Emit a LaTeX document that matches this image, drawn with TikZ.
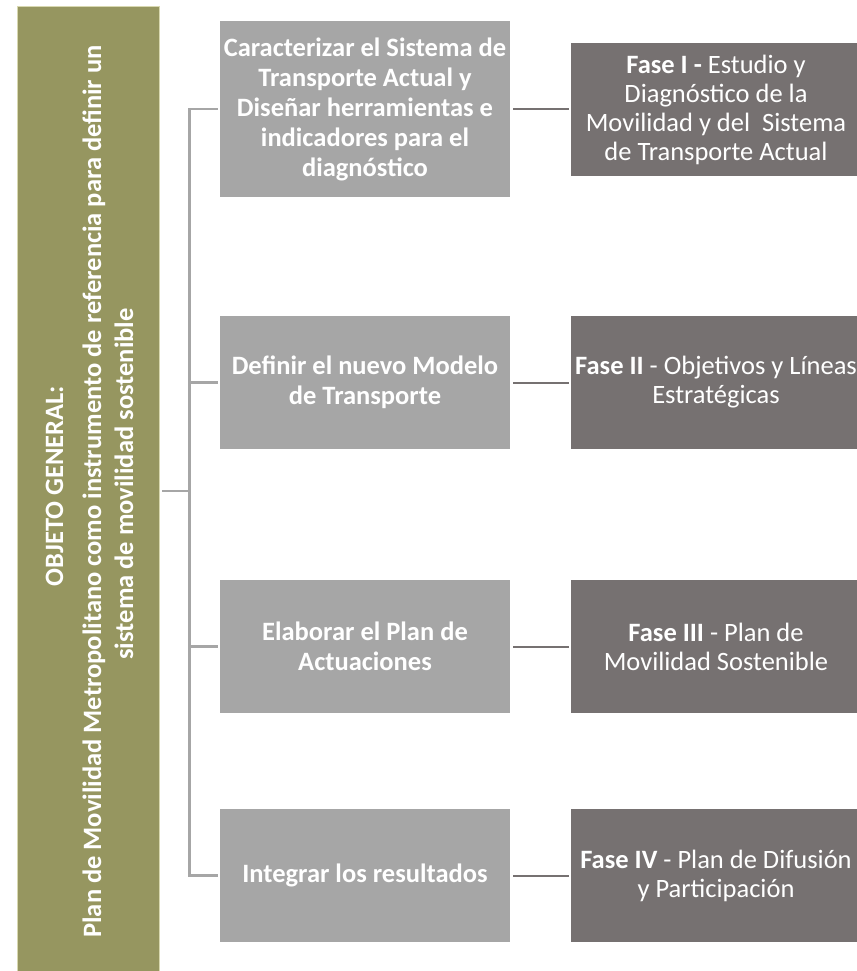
\documentclass[tikz,border=0pt]{standalone}
\usepackage{fontspec}
\setmainfont{Carlito}
\definecolor{olivebox}{HTML}{969660}
\definecolor{olivedge}{HTML}{D8D8B0}
\definecolor{midgray}{HTML}{A6A6A6}
\definecolor{darkgray}{HTML}{767171}
\begin{document}
\begin{tikzpicture}[x=1pt,y=-1pt,
  midbox/.style={fill=midgray, text=white, font=\fontsize{26.5}{30}\selectfont\bfseries,
    minimum width=290pt, align=center, inner sep=0pt},
  fasebox/.style={fill=darkgray, text=white, font=\fontsize{26.5}{29}\selectfont,
    minimum width=290pt, minimum height=133pt, align=center, inner sep=0pt},
  objtext/.style={rotate=90, text=white, anchor=base, inner sep=0pt,
    font=\fontsize{26.5}{32}\selectfont\bfseries},
  bracket/.style={draw=midgray, line width=2.5pt},
  link/.style={draw=darkgray, line width=2pt}]
\useasboundingbox (0,0) rectangle (856,971);
% left objective box
\node (obj) [fill=olivebox, draw=olivedge, line width=0.6pt, minimum width=142pt,
  minimum height=969pt, inner sep=0pt] at (88,490.5) {};
\node (objtitle) [objtext] at (63,486) {OBJETO GENERAL:};
\node (objline1) [objtext] at (101,491.5) {Plan de Movilidad Metropolitano como instrumento de referencia para definir un};
\node (objline2) [objtext] at (133,484) {sistema de movilidad sostenible};
% middle boxes
\node (m1) [midbox, minimum height=176pt] at (365,109) {Caracterizar el Sistema de\\Transporte Actual y\\Diseñar herramientas e\\indicadores para el\\diagnóstico};
\node (m2) [midbox, minimum height=133pt] at (365,382.5) {Definir el nuevo Modelo\\de Transporte};
\node (m3) [midbox, minimum height=133pt] at (365,646.5) {Elaborar el Plan de\\Actuaciones};
\node (m4) [midbox, minimum height=133pt] at (365,875.5) {Integrar los resultados};
% right boxes
\node (f1) [fasebox] at (716,109.5) {\textbf{Fase I -} Estudio y\\Diagnóstico de la\\Movilidad y del\ \ Sistema\\de Transporte Actual};
\node (f2) [fasebox] at (716,382.5) {\textbf{Fase II} - Objetivos y Líneas\\Estratégicas};
\node (f3) [fasebox] at (716,646.5) {\textbf{Fase III} - Plan de\\Movilidad Sostenible};
\node (f4) [fasebox] at (716,875.5) {\textbf{Fase IV} - Plan de Difusión\\y Participación};
% bracket
\coordinate (hub) at (189.5,491);
\draw[bracket, shorten <=3pt] (obj.east |- hub) -- (hub);
\draw[bracket, shorten >=2pt] (hub) |- (m1.west);
\draw[bracket, shorten >=2pt] (hub) |- (m2.west);
\draw[bracket, shorten >=2pt] (hub) |- (m3.west);
\draw[bracket, shorten >=2pt] (hub) |- (m4.west);
% links
\draw[link, shorten <=3pt, shorten >=2pt] (m1.east |- f1.west) -- (f1.west);
\draw[link, shorten <=3pt, shorten >=2pt] (m2.east) -- (f2.west);
\draw[link, shorten <=3pt, shorten >=2pt] (m3.east) -- (f3.west);
\draw[link, shorten <=3pt, shorten >=2pt] (m4.east) -- (f4.west);
\end{tikzpicture}
\end{document}
